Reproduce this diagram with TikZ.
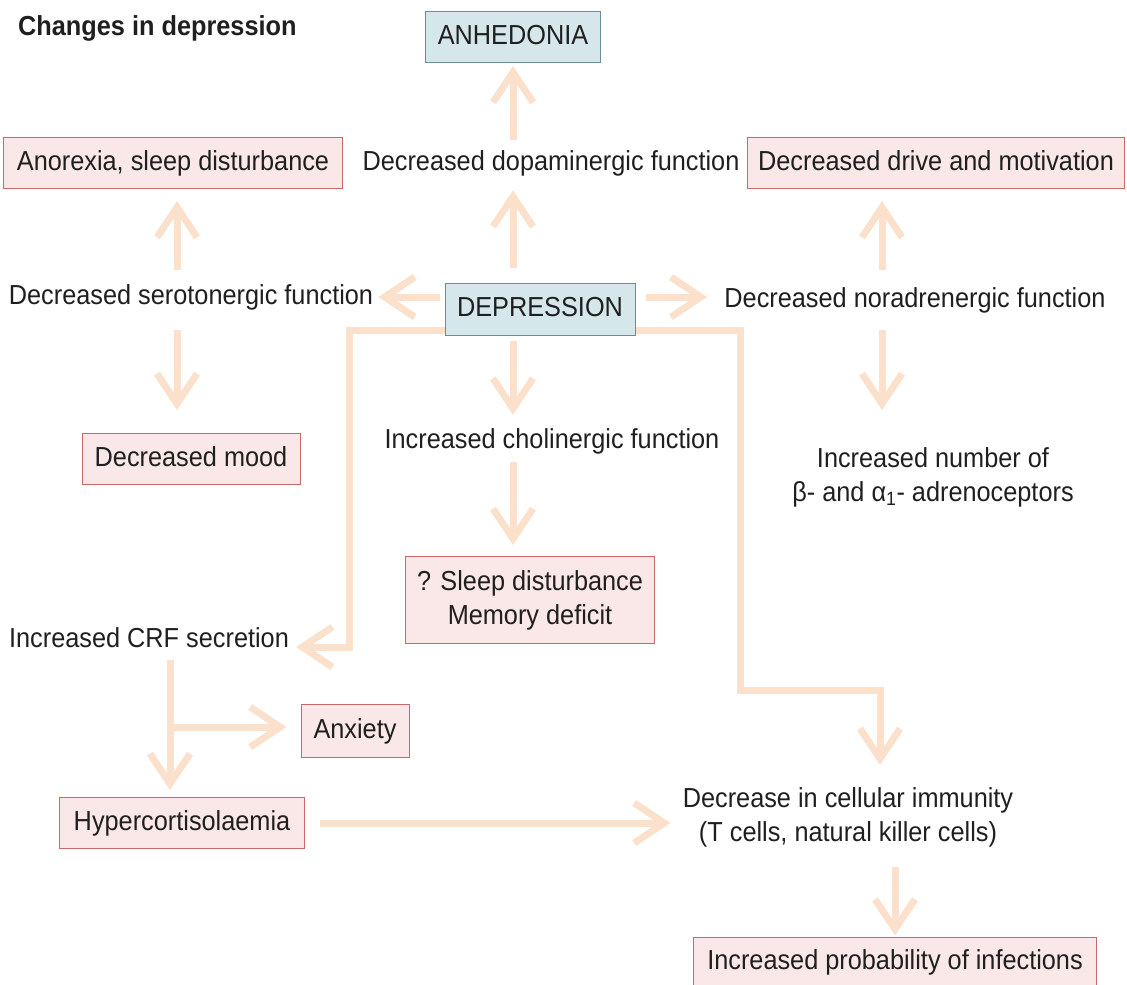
\documentclass[tikz,border=0pt]{standalone}
\usepackage{fontspec}
\setmainfont{Liberation Sans}[FakeStretch=0.92]
\usepackage{xcolor}
\usetikzlibrary{arrows.meta}
\definecolor{peach}{RGB}{251,224,204}
\definecolor{pinkfill}{RGB}{250,232,232}
\definecolor{pinkline}{RGB}{200,105,105}
\definecolor{bluefill}{RGB}{214,231,235}
\definecolor{blueline}{RGB}{110,140,150}
\tikzstyle{txt} = [inner sep=0pt, text height=20pt, text depth=6pt]
\tikzstyle{twoline} = [inner sep=0pt, align=center]
\tikzstyle{pinkbox} = [rectangle, draw=pinkline, fill=pinkfill, line width=1pt, minimum height=51pt, inner sep=0pt, text height=20pt, text depth=6pt]
\tikzstyle{bluebox} = [rectangle, draw=blueline, fill=bluefill, line width=1pt, minimum height=51pt, inner sep=0pt, text height=20pt, text depth=6pt]
\tikzstyle{arrow} = [line width=7pt, draw=peach, -{Straight Barb[length=30pt,width=40pt]}]

\begin{document}
\begin{tikzpicture}[x=1pt, y=-1pt, font=\fontsize{27.5pt}{34pt}\selectfont, text=black!88]
\useasboundingbox (0,0) rectangle (1127,985);

% Nodes
\node (title) [txt, anchor=west, font=\fontsize{27.5pt}{34pt}\selectfont\bfseries] at (18,28) {Changes in depression};
\node (anh) [bluebox, minimum width=175pt] at (513,37) {ANHEDONIA};
\node (anorexia) [pinkbox, minimum width=339pt] at (173,163) {Anorexia, sleep disturbance};
\node (dopa) [txt] at (551,163) {Decreased dopaminergic function};
\node (drive) [pinkbox, minimum width=377pt] at (936,163) {Decreased drive and motivation};
\node (sero) [txt] at (191,297) {Decreased serotonergic function};
\node (dep) [bluebox, minimum width=190pt, minimum height=52pt] at (540,309) {DEPRESSION};
\node (nora) [txt] at (915,300) {Decreased noradrenergic function};
\node (mood) [pinkbox, minimum width=218pt] at (191,459) {Decreased mood};
\node (chol) [txt] at (552,441) {Increased cholinergic function};
\node (adreno) [twoline] at (933,477) {Increased number of\\β- and α\textsubscript{1}- adrenoceptors};
\node (sleep) [pinkbox, minimum width=249pt, minimum height=87pt, align=center, text height=, text depth=] at (530,600) {? Sleep disturbance\\Memory deficit};
\node (crf) [txt] at (149,640) {Increased CRF secretion};
\node (anx) [pinkbox, minimum width=108pt, minimum height=53pt] at (355,731) {Anxiety};
\node (hyper) [pinkbox, minimum width=245pt] at (182,823) {Hypercortisolaemia};
\node (imm) [twoline] at (848,817) {Decrease in cellular immunity\\(T cells, natural killer cells)};
\node (infect) [pinkbox, minimum width=403pt, minimum height=50pt] at (895,962) {Increased probability of infections};
\coordinate (bend) at (740,690);

% Arrows
\draw [arrow, shorten <=10pt, shorten >=3pt] ([xshift=-38pt]dopa.north) -- (anh.south);
\draw [arrow, shorten <=15pt, shorten >=14pt] ([xshift=-27pt]dep.north) -- ([xshift=-38pt]dopa.south);
\draw [arrow, shorten <=14pt, shorten >=12pt] ([xshift=-14pt]sero.north) -- ([xshift=4pt]anorexia.south);
\draw [arrow, shorten <=5pt, shorten >=5pt] ([yshift=12pt]dep.west) -- (sero.east);
\draw [arrow, shorten <=10pt, shorten >=17pt] ([yshift=12pt]dep.east) -- ([yshift=3pt]nora.west);
\draw [arrow, shorten <=17pt, shorten >=12pt] ([xshift=-33pt]nora.north) -- ([xshift=-54pt]drive.south);
\draw [arrow, shorten <=17pt, shorten >=37pt] ([xshift=-33pt]nora.south) -- ([xshift=-51pt]adreno.north);
\draw [arrow, shorten <=20pt, shorten >=23pt] ([xshift=-14pt]sero.south) -- ([xshift=-14pt]mood.north);
\draw [arrow, shorten <=5pt, shorten >=13pt] ([xshift=-27pt]dep.south) -- ([xshift=-39pt]chol.north);
\draw [arrow, shorten <=8pt, shorten >=11pt] ([xshift=-39pt]chol.south) -- ([xshift=-17pt]sleep.north);
\draw [arrow] ([yshift=5pt]dep.south west) -| ([xshift=60pt,yshift=-7pt]crf.east) -- ([xshift=7pt,yshift=-7pt]crf.east);
\draw [arrow, shorten >=22pt] ([yshift=5pt]dep.south east) -| (bend) -| ([xshift=32pt]imm.north);
\draw [arrow, shorten <=7pt, shorten >=7pt] ([xshift=21pt]crf.south) -- ([xshift=-12pt]hyper.north);
\draw [arrow, shorten <=7pt, shorten >=14pt] ([xshift=21pt]crf.south) |- ([yshift=4pt]anx.west);
\draw [arrow, shorten <=15pt, shorten >=12pt] (hyper.east) -- (hyper.east -| imm.west);
\draw [arrow, shorten <=20pt, shorten >=1pt] ([xshift=47pt]imm.south) -- (infect.north);

\end{tikzpicture}
\end{document}
